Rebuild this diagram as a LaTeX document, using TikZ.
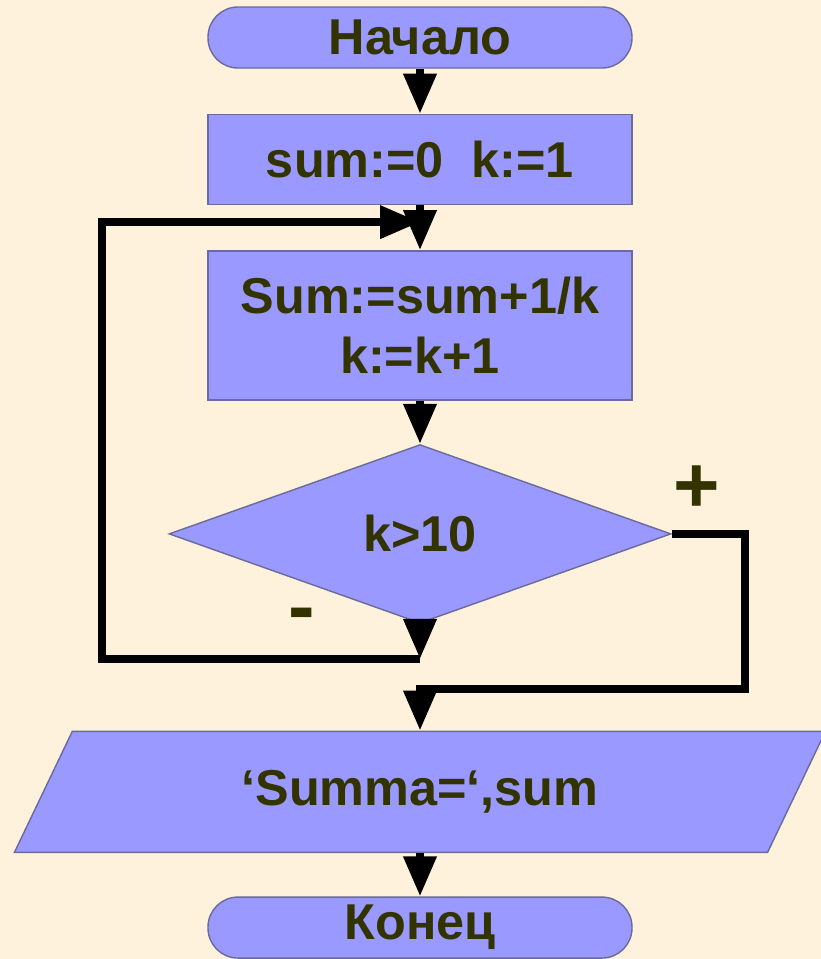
\documentclass[tikz,border=0pt]{standalone}
\usepackage{fontspec}
\setmainfont{Liberation Sans}
\usetikzlibrary{positioning, arrows.meta, shapes.geometric}

\definecolor{bg}{HTML}{FFF2DC}
\definecolor{blkfill}{HTML}{9999FF}
\definecolor{edge}{HTML}{6A6A9C}
\definecolor{txt}{HTML}{333300}

\begin{document}
\begin{tikzpicture}[
		node distance=1.35cm,
		every node/.style={font=\fontsize{43}{51}\selectfont\bfseries, text=txt},
		blk/.style={draw=edge, fill=blkfill, line width=1.2pt, align=center, inner sep=0pt},
		term/.style={blk, rounded corners=0.9cm, minimum width=12.72cm, minimum height=1.83cm},
		proc/.style={blk, minimum width=12.72cm},
		decide/.style={blk, diamond, minimum width=15.06cm, minimum height=5.36cm},
		io/.style={blk, trapezium, trapezium left angle=36.6, trapezium right angle=143.4,
			trapezium stretches body, minimum width=24.33cm, minimum height=3.63cm},
		sign/.style={font=\fontsize{68}{70}\selectfont\bfseries},
		arrow/.style={-{Triangle[length=1.2cm, width=0.95cm]}, line width=0.24cm},
		link/.style={line width=0.24cm}
	]

	% Background
	\fill[bg] (0,0) rectangle (24.63,-28.77);
	\useasboundingbox (0,0) rectangle (24.63,-28.77);

	% Nodes
	\node[term] (start) at (12.6,-1.125) {Начало};
	\node[proc, minimum height=2.7cm] (init) [below=of start] {sum:=0\ \ k:=1};
	\node[proc, minimum height=4.47cm] (body) [below=of init] {Sum:=sum+1/k\\k:=k+1};
	\node[decide] (check) [below=1.3cm of body] {k>10};
	\node[io] (out) [below=3.2cm of check] {‘Summa=‘,sum};
	\node[term] (stop) [below=1.3cm of out] {Конец};

	% Labels
	\node[sign] (yes) at ([xshift=0.75cm, yshift=1.35cm]check.east) {+};
	\node[sign] (no) at ([xshift=-3.54cm, yshift=0.1cm]check.south) {-};

	% Helper points
	\coordinate[below=0.51cm of init.south] (entry);
	\coordinate[below=1.05cm of check.south] (back);
	\coordinate[below=1.95cm of check.south] (merge);

	% Connections
	\draw[arrow] (start) -- (init);
	\draw[arrow] (init) -- (body);
	\draw[arrow] (body) -- (check);

	\draw[arrow] (check.south) -- (back);
	\draw[arrow] (back) -- ++(-9.54cm,0) |- (entry);

	\draw[arrow] (check.east) -- ++(2.19cm,0) |- (merge) -- (out.north -| merge);

	\draw[arrow] (out.south -| stop) -- (stop);

\end{tikzpicture}
\end{document}
